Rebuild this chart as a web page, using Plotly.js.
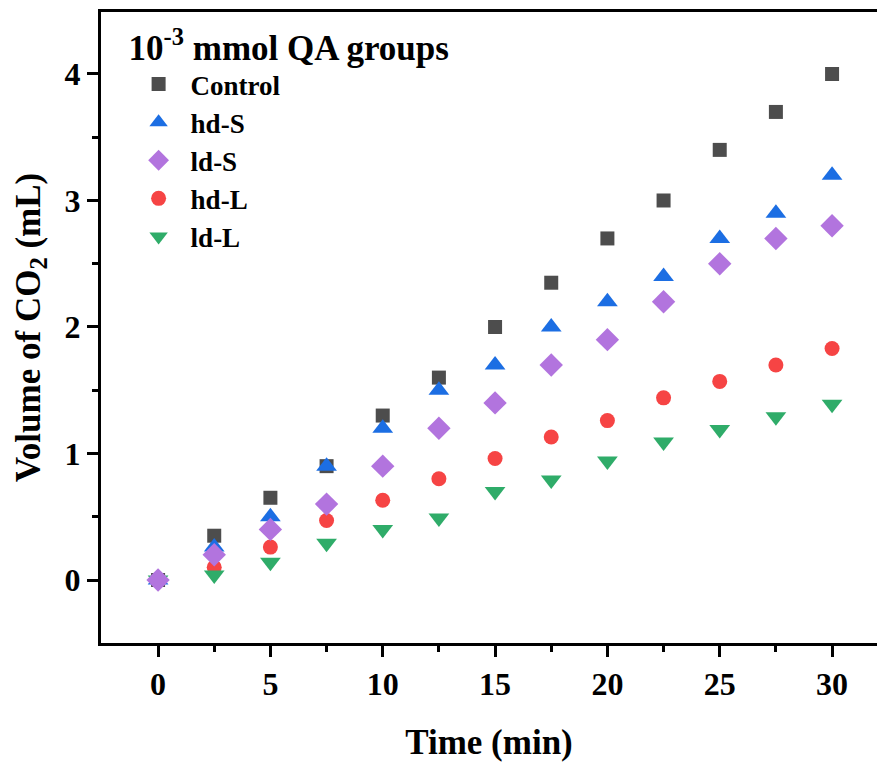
<!DOCTYPE html>
<html>
<head>
<meta charset="utf-8">
<script src="https://cdn.plot.ly/plotly-3.0.1.min.js"></script>
<style>html,body{margin:0;padding:0;background:#fff;}#chart{width:877px;height:764px;}</style>
</head>
<body>
<div id="chart"></div>
<script>
const time = [0, 2.5, 5, 7.5, 10, 12.5, 15, 17.5, 20, 22.5, 25, 27.5, 30];
const control = [0, 0.35, 0.65, 0.90, 1.30, 1.60, 2.00, 2.35, 2.70, 3.00, 3.40, 3.70, 4.00];
const hdS = [0, 0.26, 0.50, 0.90, 1.20, 1.50, 1.70, 2.00, 2.20, 2.40, 2.70, 2.90, 3.20];
const ldS = [0, 0.20, 0.40, 0.60, 0.90, 1.20, 1.40, 1.70, 1.90, 2.20, 2.50, 2.70, 2.80];
const hdL = [0, 0.10, 0.26, 0.47, 0.63, 0.80, 0.96, 1.13, 1.26, 1.44, 1.57, 1.70, 1.83];
const ldL = [0, 0.04, 0.14, 0.29, 0.40, 0.49, 0.70, 0.79, 0.94, 1.09, 1.19, 1.29, 1.39];
const seriesNames = ['Control', 'hd-S', 'ld-S', 'hd-L', 'ld-L'];

const F = 'Liberation Serif, Times New Roman, serif';
const specs = [
  {y: control, name: seriesNames[0], symbol: 'square', color: '#4d4d4d', size: 14},
  {y: hdS, name: seriesNames[1], symbol: 'triangle-up', color: '#1c6ee3', size: 18},
  {y: ldS, name: seriesNames[2], symbol: 'diamond', color: '#b274de', size: 18},
  {y: hdL, name: seriesNames[3], symbol: 'circle', color: '#f64444', size: 15},
  {y: ldL, name: seriesNames[4], symbol: 'triangle-down', color: '#2fac69', size: 18}
];
// drawing order: purple diamonds on top, as in the reference
const drawOrder = [0, 1, 3, 4, 2];
const traces = drawOrder.map(i => {
  const s = specs[i];
  return {
    x: time, y: s.y, name: s.name, type: 'scatter', mode: 'markers',
    legendrank: i + 1,
    marker: {symbol: s.symbol, color: s.color, size: s.size, line: {width: 0}}
  };
});

const layout = {
  width: 877, height: 764,
  margin: {l: 101, r: 0, t: 12, b: 121},
  paper_bgcolor: '#fff', plot_bgcolor: '#fff',
  font: {family: F, color: '#000'},
  showlegend: true,
  legend: {
    x: 0.033, y: 0.996, xanchor: 'left', yanchor: 'top',
    bgcolor: 'rgba(0,0,0,0)',
    font: {family: F, size: 27, color: '#000', weight: 'bold'},
    title: {text: '<b>10<sup>-3</sup> mmol QA groups</b>', font: {family: F, size: 35, color: '#000'}},
    itemwidth: 54,
    traceorder: 'normal'
  },
  xaxis: {
    range: [-2.54, 32.0], tickvals: [0, 5, 10, 15, 20, 25, 30],
    ticks: 'outside', ticklen: 11, tickwidth: 3, tickcolor: '#000',
    minor: {tickvals: [2.5, 7.5, 12.5, 17.5, 22.5, 27.5], ticks: 'outside', ticklen: 6, tickwidth: 3, tickcolor: '#000'},
    showline: true, linewidth: 3, linecolor: '#000', mirror: true,
    showgrid: false, zeroline: false,
    tickfont: {family: F, size: 32, color: '#000', weight: 'bold'},
    title: {text: '<b>Time (min)</b>', font: {family: F, size: 35, color: '#000'}, standoff: 29}
  },
  yaxis: {
    range: [-0.498, 4.49], tickvals: [0, 1, 2, 3, 4],
    ticks: 'outside', ticklen: 11, tickwidth: 3, tickcolor: '#000',
    minor: {tickvals: [-0.5, 0.5, 1.5, 2.5, 3.5], ticks: 'outside', ticklen: 6, tickwidth: 3, tickcolor: '#000'},
    showline: true, linewidth: 3, linecolor: '#000', mirror: false,
    showgrid: false, zeroline: false,
    tickfont: {family: F, size: 32, color: '#000', weight: 'bold'},
    title: {text: '<b>Volume of CO<sub>2</sub> (mL)</b>', font: {family: F, size: 35, color: '#000'}, standoff: 14}
  }
};
Plotly.newPlot('chart', traces, layout, {displayModeBar: false, staticPlot: true});
</script>
</body>
</html>
